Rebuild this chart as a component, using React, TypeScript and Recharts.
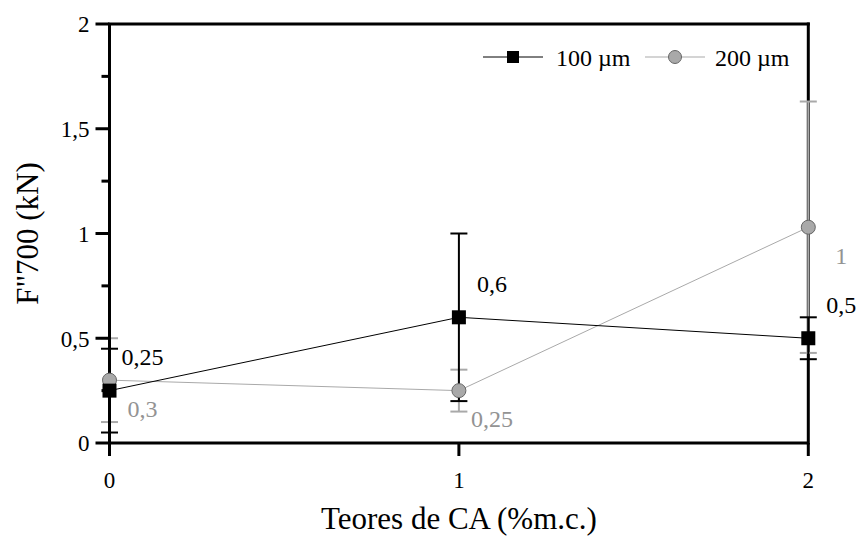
import React from "react";
import {
  ComposedChart,
  Line,
  XAxis,
  YAxis,
  ErrorBar,
  ReferenceLine,
  LabelList,
  Legend,
} from "recharts";

const categories = [0, 1, 2];
const xTicks = [0, 1, 2];
const yTicks = [0, 0.25, 0.5, 0.75, 1, 1.25, 1.5, 1.75, 2];
const yTickLabels: Record<string, string> = { "0": "0", "0.5": "0,5", "1": "1", "1.5": "1,5", "2": "2" };

const values100 = [0.25, 0.6, 0.5];
const errors100 = [0.2, 0.4, 0.1];
const labels100 = ["0,25", "0,6", "0,5"];

const values200 = [0.3, 0.25, 1.03];
const errors200 = [0.2, 0.1, 0.6];
const labels200 = ["0,3", "0,25", "1"];

const seriesNames = ["100 \u00b5m", "200 \u00b5m"];

const data = categories.map((c, i) => ({
  x: c,
  v100: values100[i],
  e100: errors100[i],
  l100: labels100[i],
  v200: values200[i],
  e200: errors200[i],
  l200: labels200[i],
}));

const FONT = "Liberation Serif, Times New Roman, DejaVu Serif, serif";
const GRAY = "#a9a9a9";
const GRAY_TEXT = "#939393";

const YTick = (props: any) => {
  const { x, y, payload } = props;
  const key = String(payload.value);
  const major = key in yTickLabels;
  return (
    <g>
      <line x1={x - (major ? 14 : 8)} x2={x} y1={y} y2={y} stroke="#000" strokeWidth={3} />
      {major && (
        <text x={x - 20} y={y} dy="0.36em" textAnchor="end" style={{ fontFamily: FONT, fontSize: 23 }} fill="#000">
          {yTickLabels[key]}
        </text>
      )}
    </g>
  );
};

const XTick = (props: any) => {
  const { x, y, payload } = props;
  return (
    <text x={x} y={y} dy="0.36em" textAnchor="middle" style={{ fontFamily: FONT, fontSize: 23 }} fill="#000">
      {String(payload.value)}
    </text>
  );
};

const SquareDot = (props: any) => {
  const { cx, cy, index } = props;
  return <rect key={`sq-${index}`} x={cx - 7} y={cy - 7} width={14} height={14} fill="#000" />;
};

const makeLabel = (color: string, dy: number) => (props: any) => {
  const { x, y, value, index } = props;
  return (
    <text
      key={`lb-${color}-${index}`}
      x={x + 33}
      y={y + dy}
      dy="0.36em"
      textAnchor="middle"
      style={{ fontFamily: FONT, fontSize: 24 }}
      fill={color}
    >
      {value}
    </text>
  );
};

const LegendContent = () => (
  <svg width={330} height={32} style={{ display: "block" }}>
    <line x1={3} x2={63} y1={15} y2={15} stroke="#000" strokeWidth={1} />
    <rect x={27} y={9} width={12} height={12} fill="#000" />
    <text x={76} y={15} dy="0.36em" style={{ fontFamily: FONT, fontSize: 24 }} fill="#000">
      {seriesNames[0]}
    </text>
    <line x1={165} x2={225} y1={15} y2={15} stroke={GRAY} strokeWidth={1} />
    <circle cx={195} cy={15} r={6.5} fill={GRAY} stroke="#666" strokeWidth={1} />
    <text x={235} y={15} dy="0.36em" style={{ fontFamily: FONT, fontSize: 24 }} fill="#000">
      {seriesNames[1]}
    </text>
  </svg>
);

export default function App() {
  return (
    <div style={{ position: "absolute", left: 0, top: 0, width: 858, height: 537, overflow: "hidden" }}>
      <ComposedChart
        width={858}
        height={537}
        data={data}
        margin={{ top: 24, right: 49.7, left: 0, bottom: 34 }}
      >
        <XAxis
          dataKey="x"
          type="number"
          domain={[0, 2]}
          ticks={xTicks}
          interval={0}
          height={60}
          axisLine={{ stroke: "#000", strokeWidth: 3 }}
          tickLine={{ stroke: "#000", strokeWidth: 3 }}
          tickSize={13}
          tickMargin={24}
          tick={<XTick />}
          label={{
            content: (p: any) => {
              const vb = p.viewBox || {};
              return (
                <text
                  x={vb.x + vb.width / 2}
                  y={vb.y + 75}
                  dy="0.36em"
                  textAnchor="middle"
                  style={{ fontFamily: FONT, fontSize: 31 }}
                  fill="#000"
                >
                  Teores de CA (%m.c.)
                </text>
              );
            },
          }}
        />
        <YAxis
          type="number"
          domain={[0, 2]}
          ticks={yTicks}
          interval={0}
          width={109.5}
          axisLine={{ stroke: "#000", strokeWidth: 3 }}
          tickLine={false}
          tickSize={0}
          tickMargin={0}
          tick={<YTick />}
          label={{
            content: (p: any) => {
              const vb = p.viewBox || {};
              const cx = 27;
              const cy = vb.y + vb.height / 2;
              return (
                <text
                  x={cx}
                  y={cy}
                  dy="0.36em"
                  textAnchor="middle"
                  transform={`rotate(-90, ${cx}, ${cy})`}
                  style={{ fontFamily: FONT, fontSize: 31 }}
                  fill="#000"
                >
                  F"700 (kN)
                </text>
              );
            },
          }}
        />
        <ReferenceLine y={2} stroke="#000" strokeWidth={3} strokeLinecap="square" />
        <ReferenceLine x={2} stroke="#000" strokeWidth={3} strokeLinecap="square" />
        <Legend
          layout="vertical"
          align="center"
          verticalAlign="middle"
          wrapperStyle={{ top: 42, left: 480, width: 330 }}
          content={<LegendContent />}
        />
        <Line
          dataKey="v200"
          name={seriesNames[1]}
          stroke={GRAY}
          strokeWidth={1}
          isAnimationActive={false}
          dot={{ r: 7, fill: GRAY, stroke: "#666", strokeWidth: 1 }}
          activeDot={false}
        >
          <ErrorBar dataKey="e200" direction="y" width={8.5} stroke={GRAY} strokeWidth={2} isAnimationActive={false} />
          <LabelList dataKey="l200" content={makeLabel(GRAY_TEXT, 28)} />
        </Line>
        <Line
          dataKey="v100"
          name={seriesNames[0]}
          stroke="#000"
          strokeWidth={1}
          isAnimationActive={false}
          dot={<SquareDot />}
          activeDot={false}
        >
          <ErrorBar dataKey="e100" direction="y" width={8.5} stroke="#000" strokeWidth={2} isAnimationActive={false} />
          <LabelList dataKey="l100" content={makeLabel("#000", -34)} />
        </Line>
      </ComposedChart>
    </div>
  );
}
